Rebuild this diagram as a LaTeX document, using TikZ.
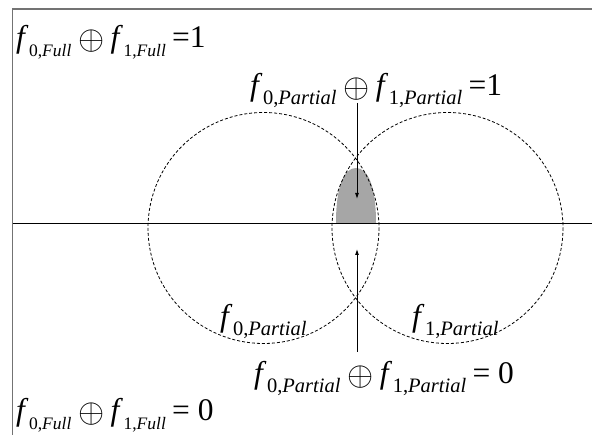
\documentclass[tikz,border=0pt]{standalone}
\usepackage{graphicx}
\usepackage{fontspec}
\setmainfont{Liberation Serif}
\usetikzlibrary{arrows.meta}
\newcommand{\fsb}[3][20.5]{\textit{f}\kern0.5pt\raisebox{-0.28em}{\fontsize{#1}{#1}\selectfont #2,\textit{#3}}}
\newcommand{\opl}{\hspace{0.22em}\raisebox{-0.06em}{\scalebox{1.35}{$\oplus$}}\hspace{0.2em}}
\tikzset{
  lbl/.style={inner sep=0pt, anchor=base west, font=\fontsize{31.5}{34}\selectfont},
  circ/.style={draw=black, line width=0.8pt, dash pattern=on 3pt off 2pt},
  frame/.style={draw=black!55, line width=1.6pt},
  arr/.style={draw=black, line width=0.9pt, -{Latex[length=6pt,width=4pt]}}
}
\begin{document}
\begin{tikzpicture}[x=1pt,y=-1pt]
\useasboundingbox (0,0) rectangle (592,435);
% shaded region above the horizontal axis
\fill[black!35] (336,223) .. controls (336,186) and (344,168) .. (356,168)
   .. controls (368,168) and (376,186) .. (376,223) -- cycle;
% frame
\draw[frame] (12.5,435) -- (12.5,9) -- (592,9);
% axis
\draw[line width=0.9pt] (12.5,223) -- (592,223);
% circles
\draw[circ] (263.5,228) circle (115.5);
\draw[circ] (447.5,228) circle (115.5);
% texts
\node[lbl] (tl) at (16,48) {\fsb[17.5]{0}{Full}\opl\fsb[17.5]{1}{Full}\hspace{0.2em}=1};
\node[lbl] (tp) at (250,96) {\fsb{0}{Partial}\opl\fsb{1}{Partial}\hspace{0.2em}=1};
\node[lbl] (c0) at (220,327) {\fsb{0}{Partial}};
\node[lbl] (c1) at (412,327) {\fsb{1}{Partial}};
\node[lbl] (bp) at (254,384) {\fsb{0}{Partial}\opl\fsb{1}{Partial}\hspace{0.2em}= 0};
\node[lbl] (bl) at (16,421) {\fsb[17.5]{0}{Full}\opl\fsb[17.5]{1}{Full}\hspace{0.2em}= 0};
% arrows
\coordinate (a1s) at (357,103);
\coordinate (a1e) at (357,199);
\coordinate (a2s) at (357,352);
\coordinate (a2e) at (357,249);
\draw[arr] (a1s) -- (a1e);
\draw[arr] (a2s) -- (a2e);
\end{tikzpicture}
\end{document}
